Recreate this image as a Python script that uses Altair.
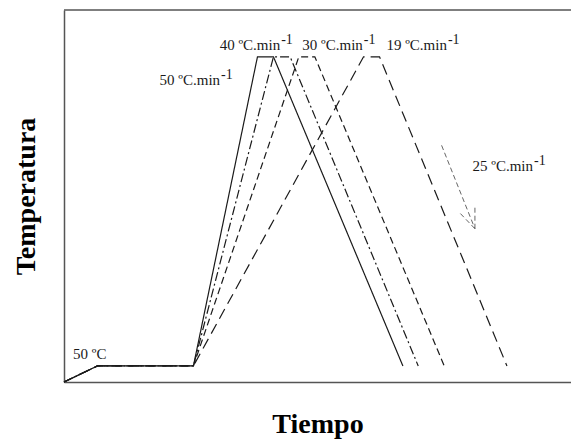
import altair as alt
import pandas as pd

# Thermal cycle vertices: time (min) and temperature (°C) for each heating rate
rates = ["50", "40", "30", "19"]
t_50 = [0, 5, 19.4, 29.0, 31.4, 50.8]
t_40 = [0, 5, 19.4, 31.4, 33.9, 53.1]
t_30 = [0, 5, 19.4, 35.2, 37.6, 57.0]
t_19 = [0, 5, 19.4, 44.9, 47.3, 66.4]
temps = [25, 50, 50, 532, 532, 50]

# Rate annotations ("... ºC.min" with a raised "-1")
lab_text = ["50 ºC.min", "40 ºC.min", "30 ºC.min", "19 ºC.min", "25 ºC.min"]
lab_t = [23.4, 32.4, 44.8, 57.4, 70.3]
lab_T = [488, 542, 542, 542, 354]

# Hold temperature annotation
hold_text = ["50 ºC"]
hold_t = [1.35]
hold_T = [61]

# Dashed arrow marking the common cooling rate (shaft + two head strokes)
arr_t = [56.6, 61.6, 61.6]
arr_T = [394, 264, 264]
arr_t2 = [61.6, 61.6, 59.2]
arr_T2 = [264, 298, 290]

T_MIN, T_MAX = 25, 605
TIME_MAX = 76

rows = []
for name, ts in zip(rates, [t_50, t_40, t_30, t_19]):
    for i, (t, T) in enumerate(zip(ts, temps)):
        rows.append({"rate": name, "order": i, "t": t, "T": T})
lines_df = pd.DataFrame(rows)

labels_df = pd.DataFrame({"text": lab_text, "t": lab_t, "T": lab_T})
hold_df = pd.DataFrame({"text": hold_text, "t": hold_t, "T": hold_T})
arrow_df = pd.DataFrame({"t": arr_t, "T": arr_T, "t2": arr_t2, "T2": arr_T2})

SERIF = "Liberation Serif"
INK = "#1a1a1a"

x_scale = alt.Scale(domain=[0, TIME_MAX], nice=False, zero=False)
y_scale = alt.Scale(domain=[T_MIN, T_MAX], nice=False, zero=False)


def frame_axis(title, pad):
    return alt.Axis(
        title=title,
        titlePadding=pad,
        grid=False,
        ticks=False,
        labels=False,
        domainColor="#555",
        domainWidth=1.5,
        titleFont=SERIF,
        titleFontSize=28,
        titleFontWeight="bold",
        titleColor="#000",
    )


x_enc = alt.X("t:Q", scale=x_scale, axis=frame_axis("Tiempo", 28))
y_enc = alt.Y("T:Q", scale=y_scale, axis=frame_axis("Temperatura", 24))

cycles = alt.Chart(lines_df).mark_line(color=INK, strokeWidth=1.2).encode(
    x=x_enc,
    y=y_enc,
    detail="rate:N",
    order="order:Q",
    strokeDash=alt.StrokeDash(
        "rate:N",
        scale=alt.Scale(domain=rates,
                        range=[[1, 0], [9, 3, 2, 3], [7, 4], [11, 6]]),
        legend=None,
    ),
)

top_border = alt.Chart(pd.DataFrame({"T": [T_MAX]})).mark_rule(
    color="#555", strokeWidth=1.5
).encode(y=alt.Y("T:Q", scale=y_scale))

rate_labels = alt.Chart(labels_df).mark_text(
    font=SERIF, fontSize=15, color=INK, align="right", baseline="alphabetic"
).encode(x="t:Q", y="T:Q", text="text:N")

rate_sups = alt.Chart(labels_df).mark_text(
    font=SERIF, fontSize=14, color=INK, align="left", baseline="alphabetic",
    dx=1, dy=-6
).encode(x="t:Q", y="T:Q", text=alt.value("-1"))

hold_label = alt.Chart(hold_df).mark_text(
    font=SERIF, fontSize=15, color=INK, align="left", baseline="alphabetic"
).encode(x="t:Q", y="T:Q", text="text:N")

arrow = alt.Chart(arrow_df).mark_rule(
    color="#666", strokeWidth=1, strokeDash=[5, 3]
).encode(x="t:Q", y="T:Q", x2="t2:Q", y2="T2:Q")

chart = (
    alt.layer(cycles, top_border, arrow, rate_labels, rate_sups, hold_label)
    .properties(
        width=507,
        height=372,
        padding={"left": 64, "top": 10, "right": 0, "bottom": 58},
        autosize="none",
        background="white",
    )
    .configure_view(stroke=None)
)

chart.save("out.html", embed_options={"renderer": "svg", "actions": False})
